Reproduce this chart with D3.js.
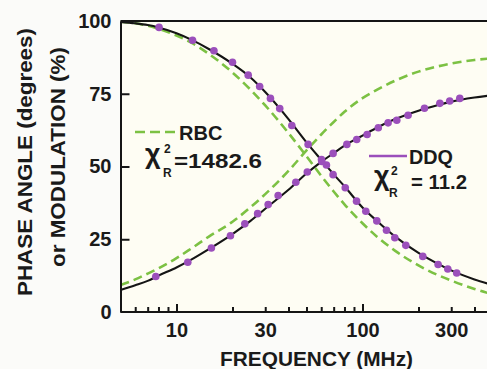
<!DOCTYPE html>
<html>
<head>
<meta charset="utf-8">
<script src="https://cdn.jsdelivr.net/npm/d3@7"></script>
<style>
  html, body { margin: 0; padding: 0; background: #ffffff; }
  svg { display: block; }
  text { font-family: "Liberation Sans", Arial, sans-serif; font-weight: bold; fill: #1a1a1a; }
</style>
</head>
<body>
<svg id="chart" width="487" height="369"></svg>
<script>
// ---- data ----
// frequency grid (MHz) for the fitted curves
const fitFreq = [5, 6, 7, 8, 10, 12, 15, 20, 25, 30, 40, 50, 60, 70, 80, 100, 120, 150, 200, 250, 300, 400, 500];
// DDQ fit (black solid)
const ddqPhaseFit = [99.7, 99.2, 98.6, 97.8, 95.8, 93.6, 90.3, 85.3, 80.6, 75.6, 66.3, 58.3, 52.3, 47.3, 43.2, 35.9, 31.2, 25.9, 20.3, 16.8, 14.3, 11.2, 9.3];
const ddqModFit   = [7.6, 9.2, 10.7, 12.5, 15.3, 18.0, 21.7, 26.8, 31.3, 35.5, 42.0, 47.6, 51.6, 54.6, 57.2, 60.6, 63.4, 66.3, 69.2, 71.0, 72.3, 73.7, 74.5];
// RBC fit (green dashed)
const rbcPhaseFit = [99.8, 99.2, 98.4, 97.3, 95.0, 92.6, 88.6, 82.3, 76.4, 71.0, 61.5, 53.5, 46.8, 41.4, 37.0, 30.5, 25.8, 21.0, 16.0, 12.9, 10.8, 7.9, 6.1];
const rbcModFit   = [9.3, 11.2, 13.2, 15.0, 18.5, 21.8, 26.0, 31.0, 36.0, 40.5, 48.5, 55.5, 61.0, 65.3, 68.8, 73.5, 76.4, 79.5, 82.6, 84.3, 85.4, 86.6, 87.2];
// measured phase angles (purple dots)
const phaseFreq = [8.06, 12.2, 15.9, 20.0, 24.3, 28.0, 32.0, 35.9, 41.7, 51.0, 60.2, 64.0, 69.5, 80.8, 92.9, 104.2, 119.4, 134.6, 149.2, 171, 211, 255, 287.5, 321];
const phaseData = [97.8, 93.4, 89.8, 85.8, 81.4, 77.5, 73.4, 69.9, 64.1, 57.6, 52.4, 50.5, 47.2, 42.7, 38.1, 34.6, 31.3, 28.1, 25.5, 22.9, 19.1, 16.3, 14.8, 13.4];
// measured modulation (purple dots)
const modFreq = [7.74, 11.5, 15.4, 19.5, 23.3, 27.3, 31.1, 35.2, 43.8, 50.5, 60.4, 69.5, 82.4, 93.1, 105.9, 121.6, 137.3, 152.9, 175.8, 215.4, 260.6, 294.4, 333.4];
const modData  = [12.2, 17.1, 22.0, 26.2, 30.3, 33.8, 36.9, 40.0, 44.6, 48.1, 51.7, 54.5, 57.6, 59.3, 61.0, 63.3, 65.0, 65.9, 67.6, 70.0, 71.7, 72.5, 73.4];
// axis ticks
const xMajorTicks = [10, 100];
const xMinorTicks = [6, 7, 8, 9, 20, 30, 40, 50, 60, 70, 80, 90, 200, 300, 400];
const xTickLabels = [10, 30, 100, 300];
const yTicks = [0, 25, 50, 75, 100];

// ---- layout ----
const W = 487, H = 369;
const L = 120.5, T = 21, B = 312;
const svg = d3.select("#chart");

const x = d3.scaleLog().domain([5, 500]).range([L, L + 372]);
const y = d3.scaleLinear().domain([0, 100]).range([B, T]);

// background of plot area
svg.append("rect").attr("x", 0).attr("y", 0).attr("width", W).attr("height", H).attr("fill", "#fbfbf9");
svg.append("rect").attr("x", L).attr("y", T).attr("width", W - L).attr("height", B - T).attr("fill", "#fefdf3");

svg.append("defs").append("clipPath").attr("id", "clip")
  .append("rect").attr("x", L).attr("y", T - 3).attr("width", W - L).attr("height", B - T + 3);

const plot = svg.append("g").attr("clip-path", "url(#clip)");

const line = d3.line().x(d => x(d[0])).y(d => y(d[1])).curve(d3.curveMonotoneX);
const zip = (a, b) => a.map((v, i) => [v, b[i]]);

// RBC dashed green
[rbcPhaseFit, rbcModFit].forEach(s => {
  plot.append("path").attr("d", line(zip(fitFreq, s)))
    .attr("fill", "none").attr("stroke", "#7cc143").attr("stroke-width", 2.6)
    .attr("stroke-dasharray", "9,5");
});
// DDQ black solid
[ddqPhaseFit, ddqModFit].forEach(s => {
  plot.append("path").attr("d", line(zip(fitFreq, s)))
    .attr("fill", "none").attr("stroke", "#151515").attr("stroke-width", 2.1);
});
// dots
const dots = zip(phaseFreq, phaseData).concat(zip(modFreq, modData));
plot.selectAll("circle.dot").data(dots).enter().append("circle")
  .attr("class", "dot").attr("cx", d => x(d[0])).attr("cy", d => y(d[1]))
  .attr("r", 3.8).attr("fill", "#9b4fbb");

// frame: top line
svg.append("line").attr("x1", L).attr("x2", W).attr("y1", T).attr("y2", T)
  .attr("stroke", "#151515").attr("stroke-width", 2);

// x axis
const gx = svg.append("g").attr("transform", `translate(0,${B})`);
gx.call(d3.axisBottom(x).tickValues(xMinorTicks).tickSize(-5).tickSizeOuter(0).tickFormat(""));
gx.append("g").call(d3.axisBottom(x).tickValues(xMajorTicks).tickSize(-8).tickSizeOuter(0).tickFormat(""))
  .select(".domain").remove();
gx.append("g").call(d3.axisBottom(x).tickValues(xTickLabels).tickSize(0).tickPadding(11).tickFormat(d3.format("d")))
  .call(g => { g.select(".domain").remove(); g.selectAll("text").attr("font-size", 20).attr("font-family", null); });
gx.selectAll("path.domain").attr("stroke", "#151515").attr("stroke-width", 2).attr("d", `M${L},0H${W}`);
gx.selectAll("line").attr("stroke", "#151515").attr("stroke-width", 2);

// y axis
const gy = svg.append("g").attr("transform", `translate(${L},0)`);
gy.call(d3.axisLeft(y).tickValues(yTicks).tickSize(-9).tickSizeOuter(0).tickPadding(9).tickFormat(d3.format("d")));
gy.select(".domain").attr("stroke", "#151515").attr("stroke-width", 2);
gy.selectAll("line").attr("stroke", "#151515").attr("stroke-width", 2);
gy.selectAll(".tick").filter(d => d === 0 || d === 100).select("line").remove();
gy.selectAll("text").attr("font-size", 20).attr("font-family", null);

// axis titles
svg.append("text").attr("x", 316.5).attr("y", 366).attr("text-anchor", "middle")
  .attr("font-size", 20).attr("textLength", 193).attr("lengthAdjust", "spacingAndGlyphs")
  .text("FREQUENCY (MHz)");
svg.append("text").attr("transform", "translate(32,162) rotate(-90)").attr("text-anchor", "middle")
  .attr("font-size", 20).attr("textLength", 268).attr("lengthAdjust", "spacingAndGlyphs")
  .text("PHASE ANGLE (degrees)");
svg.append("text").attr("transform", "translate(65,157) rotate(-90)").attr("text-anchor", "middle")
  .attr("font-size", 20).attr("textLength", 220).attr("lengthAdjust", "spacingAndGlyphs")
  .text("or MODULATION (%)");

// legends
svg.append("line").attr("x1", 135).attr("x2", 177).attr("y1", 132).attr("y2", 132)
  .attr("stroke", "#7cc143").attr("stroke-width", 2.6).attr("stroke-dasharray", "10,5");
svg.append("text").attr("x", 179).attr("y", 140).attr("font-size", 20).text("RBC");
svg.append("text").attr("x", 145).attr("y", 163).attr("font-size", 27).text("χ");
svg.append("text").attr("x", 164).attr("y", 153).attr("font-size", 12).text("2");
svg.append("text").attr("x", 163).attr("y", 177).attr("font-size", 12).text("R");
svg.append("text").attr("x", 174).attr("y", 168).attr("font-size", 20)
  .attr("textLength", 88).attr("lengthAdjust", "spacingAndGlyphs").text("=1482.6");

svg.append("line").attr("x1", 369).attr("x2", 407).attr("y1", 156).attr("y2", 156)
  .attr("stroke", "#9b4fbb").attr("stroke-width", 2.4);
svg.append("text").attr("x", 409).attr("y", 164).attr("font-size", 20)
  .attr("textLength", 44).attr("lengthAdjust", "spacingAndGlyphs").text("DDQ");
svg.append("text").attr("x", 374).attr("y", 185).attr("font-size", 27).text("χ");
svg.append("text").attr("x", 391).attr("y", 175).attr("font-size", 12).text("2");
svg.append("text").attr("x", 389).attr("y", 197).attr("font-size", 12).text("R");
svg.append("text").attr("x", 411).attr("y", 189).attr("font-size", 20)
  .attr("textLength", 56).attr("lengthAdjust", "spacingAndGlyphs").text("= 11.2");
</script>
</body>
</html>
